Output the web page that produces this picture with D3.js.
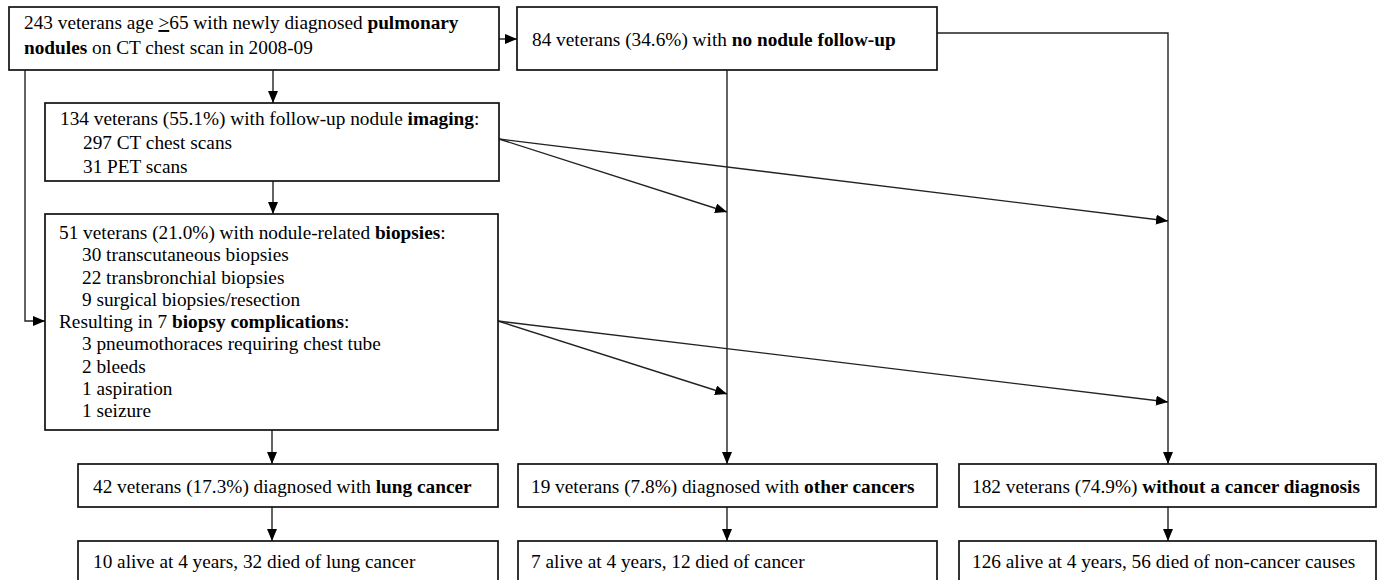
<!DOCTYPE html>
<html>
<head>
<meta charset="utf-8">
<script src="https://cdn.jsdelivr.net/npm/d3@7"></script>
<style>
  body { margin: 0; background: #fff; }
  svg text { font-family: "Liberation Serif", "Times New Roman", serif; font-size: 19.3px; fill: #000; }
</style>
</head>
<body>
<div id="chart"></div>
<script>
// Box texts. **x** = bold, __x__ = underlined, leading tab = indented line
const startLines = ["243 veterans age __>__65 with newly diagnosed **pulmonary**", "**nodules** on CT chest scan in 2008-09"];
const noFollowLines = ["84 veterans (34.6%) with **no nodule follow-up**"];
const imagingLines = ["134 veterans (55.1%) with follow-up nodule **imaging**:", "\t297 CT chest scans", "\t31 PET scans"];
const biopsyLines = [
    "51 veterans (21.0%) with nodule-related **biopsies**:",
    "\t30 transcutaneous biopsies",
    "\t22 transbronchial biopsies",
    "\t9 surgical biopsies/resection",
    "Resulting in 7 **biopsy complications**:",
    "\t3 pneumothoraces requiring chest tube",
    "\t2 bleeds",
    "\t1 aspiration",
    "\t1 seizure"
];
const diagnosisLines = [
    "42 veterans (17.3%) diagnosed with **lung cancer**",
    "19 veterans (7.8%) diagnosed with **other cancers**",
    "182 veterans (74.9%) **without a cancer diagnosis**"
];
const outcomeLines = [
    "10 alive at 4 years, 32 died of lung cancer",
    "7 alive at 4 years, 12 died of cancer",
    "126 alive at 4 years, 56 died of non-cancer causes"
];

const width = 1380, height = 580;

// layout (design coordinates)
const layout = {
    start:    { x: 9,   y: 7,   w: 490, h: 63,  tx: 24, ty: 29,  lh: 25 },
    noFollow: { x: 517, y: 7,   w: 420, h: 63,  tx: 532, ty: 46, lh: 24 },
    imaging:  { x: 45,  y: 103, w: 454, h: 78,  tx: 60, ty: 125, lh: 24 },
    biopsy:   { x: 45,  y: 214, w: 453, h: 216, tx: 59, ty: 239, lh: 22.25 },
    diag0:    { x: 78,  y: 464, w: 420, h: 43,  tx: 93, ty: 493, lh: 24 },
    diag1:    { x: 518, y: 464, w: 419, h: 43,  tx: 531, ty: 493, lh: 24 },
    diag2:    { x: 959, y: 464, w: 417, h: 43,  tx: 972, ty: 493, lh: 24 },
    out0:     { x: 78,  y: 541, w: 420, h: 60,  tx: 93, ty: 568, lh: 24 },
    out1:     { x: 518, y: 541, w: 419, h: 60,  tx: 531, ty: 568, lh: 24 },
    out2:     { x: 959, y: 541, w: 417, h: 60,  tx: 972, ty: 568, lh: 24 }
};
const indent = 23;

const boxes = [
    { id: "start", lines: startLines },
    { id: "noFollow", lines: noFollowLines },
    { id: "imaging", lines: imagingLines },
    { id: "biopsy", lines: biopsyLines },
    ...diagnosisLines.map((t, i) => ({ id: "diag" + i, lines: [t] })),
    ...outcomeLines.map((t, i) => ({ id: "out" + i, lines: [t] }))
];

// connectors as point lists, each ending in an arrowhead
const edges = [
    { pts: [[499, 39], [517, 39]] },
    { pts: [[273, 70], [273, 103]] },
    { pts: [[25, 70], [25, 321], [45, 321]] },
    { pts: [[273, 181], [273, 214]] },
    { pts: [[727, 70], [727, 464]] },
    { pts: [[937, 33], [1168, 33], [1168, 464]] },
    { pts: [[499, 139], [727, 212]] },
    { pts: [[499, 139], [1168, 221]] },
    { pts: [[498, 321], [727, 394]] },
    { pts: [[498, 321], [1168, 402]] },
    { pts: [[272, 430], [272, 464]] },
    { pts: [[272, 507], [272, 541]] },
    { pts: [[727, 507], [727, 541]] },
    { pts: [[1168, 507], [1168, 541]] }
];

const x = d3.scaleLinear().domain([0, 1380]).range([0, width]);
const y = d3.scaleLinear().domain([0, 580]).range([0, height]);

const svg = d3.select("#chart").append("svg")
    .attr("width", width)
    .attr("height", height);

svg.append("defs").append("marker")
    .attr("id", "arrow")
    .attr("viewBox", "0 0 12 10")
    .attr("refX", 12).attr("refY", 5)
    .attr("markerWidth", 12).attr("markerHeight", 10)
    .attr("markerUnits", "userSpaceOnUse")
    .attr("orient", "auto")
    .append("path")
    .attr("d", "M0,0L12,5L0,10Z")
    .attr("fill", "#000");

const line = d3.line().x(d => x(d[0])).y(d => y(d[1]));

svg.append("g").selectAll("path")
    .data(edges)
    .enter().append("path")
    .attr("d", d => line(d.pts))
    .attr("fill", "none")
    .attr("stroke", "#222")
    .attr("stroke-width", 1.4)
    .attr("marker-end", "url(#arrow)");

const box = svg.append("g").selectAll("g")
    .data(boxes)
    .enter().append("g");

box.append("rect")
    .attr("x", d => x(layout[d.id].x))
    .attr("y", d => y(layout[d.id].y))
    .attr("width", d => x(layout[d.id].w))
    .attr("height", d => y(layout[d.id].h))
    .attr("fill", "#fff")
    .attr("stroke", "#111")
    .attr("stroke-width", 1.7);

box.each(function(d) {
    const L = layout[d.id];
    const g = d3.select(this);
    d.lines.forEach((raw, i) => {
        const ind = raw.startsWith("\t");
        const str = raw.replace(/^\t/, "");
        const t = g.append("text")
            .attr("x", x(L.tx + (ind ? indent : 0)))
            .attr("y", y(L.ty + i * L.lh));
        str.split(/(\*\*[^*]+\*\*|__[^_]+__)/).filter(s => s).forEach(s => {
            const ts = t.append("tspan");
            if (s.startsWith("**")) {
                ts.text(s.slice(2, -2)).attr("font-weight", "bold");
            } else if (s.startsWith("__")) {
                ts.text(s.slice(2, -2)).attr("text-decoration", "underline");
            } else {
                ts.text(s);
            }
        });
    });
});
</script>
</body>
</html>
